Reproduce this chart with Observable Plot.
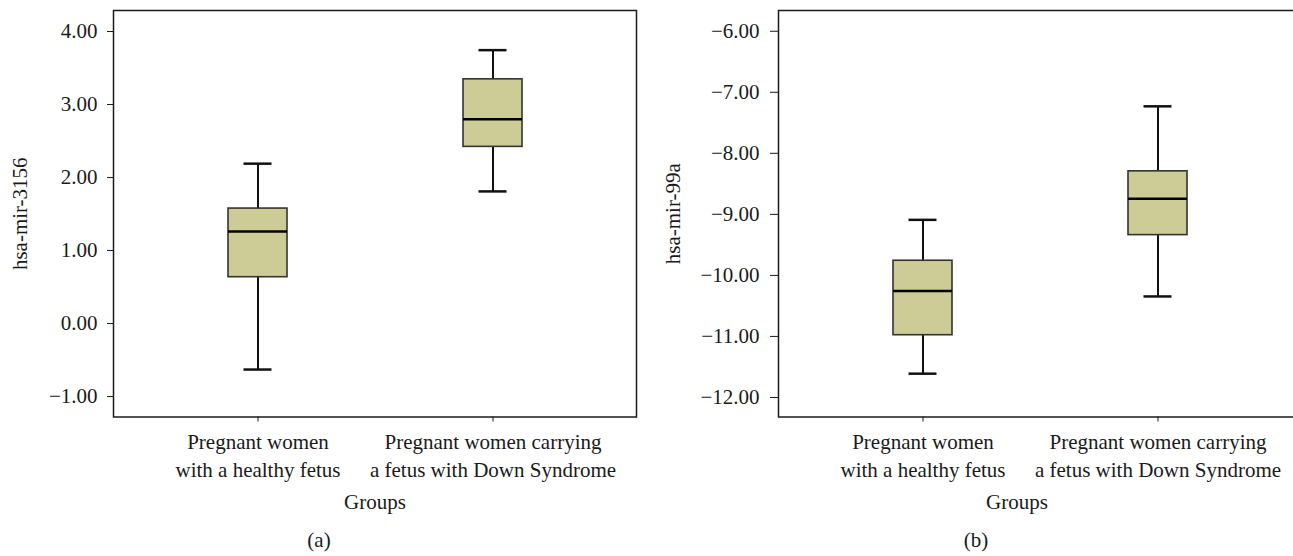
<!DOCTYPE html>
<html>
<head>
<meta charset="utf-8">
<script src="https://cdn.jsdelivr.net/npm/d3@7"></script>
<script src="https://cdn.jsdelivr.net/npm/@observablehq/plot@0.6"></script>
<style>
  html, body { margin: 0; padding: 0; background: #fff; overflow: hidden; }
  #wrap { position: relative; width: 1293px; height: 556px; overflow: hidden; font-family: "Liberation Serif", "DejaVu Serif", serif; color: #1a1a1a; }
  .panel { position: absolute; top: 0; }
  .panel svg { max-width: none !important; }
  .cap { position: absolute; top: 530px; width: 80px; margin-left: -40px; text-align: center; font-size: 21px; line-height: 20px; }
</style>
</head>
<body>
<div id="wrap">
  <div class="panel" id="pa" style="left:0px; width:640px"></div>
  <div class="panel" id="pb" style="left:640px; width:665px"></div>
  <div class="cap" style="left:319px">(a)</div>
  <div class="cap" style="left:976px">(b)</div>
</div>
<script>
// Categories (x axis)
const groups = ["Pregnant women\nwith a healthy fetus", "Pregnant women carrying\na fetus with Down Syndrome"];

// Panel (a): hsa-mir-3156 box statistics per group
const mir3156Low    = [-0.63, 1.81];
const mir3156Q1     = [0.635, 2.42];
const mir3156Median = [1.26, 2.80];
const mir3156Q3     = [1.575, 3.345];
const mir3156High   = [2.19, 3.745];
const mir3156Ticks  = [4, 3, 2, 1, 0, -1];

// Panel (b): hsa-mir-99a box statistics per group
const mir99aLow    = [-11.61, -10.345];
const mir99aQ1     = [-10.98, -9.34];
const mir99aMedian = [-10.255, -8.745];
const mir99aQ3     = [-9.76, -8.295];
const mir99aHigh   = [-9.09, -7.23];
const mir99aTicks  = [-6, -7, -8, -9, -10, -11, -12];

function table(lo, q1, med, q3, hi) {
  return groups.map((g, i) => ({group: g, lo: lo[i], q1: q1[i], med: med[i], q3: q3[i], hi: hi[i]}));
}

const fmt = d3.format(".2f");
const H = 520, FRAME_BOTTOM = 416.5;

function panel({data, yDomain, yTicks, label, width, marginLeft, tickSize, tickPadding, labelOffset, groupsDx}) {
  return Plot.plot({
    width, height: H,
    marginLeft, marginRight: 4, marginTop: 10, marginBottom: H - FRAME_BOTTOM,
    style: {fontFamily: "'Liberation Serif', 'DejaVu Serif', serif", fontSize: "21px", color: "#1a1a1a", background: "transparent", overflow: "visible", maxWidth: "none"},
    x: {type: "band", domain: groups, paddingInner: 0.749, paddingOuter: 0.487, align: 0.5},
    y: {domain: yDomain},
    marks: [
      Plot.frame({stroke: "#1a1a1a", strokeWidth: 1.5}),
      Plot.axisY({ticks: yTicks, tickFormat: fmt, tickSize, tickPadding, fontSize: 21,
                  label, labelAnchor: "center", labelOffset, labelArrow: "none"}),
      Plot.axisX({tickSize: 5, tickPadding: 8, fontSize: 21, lineHeight: 1.3, label: null}),
      Plot.ruleX(data, {x: "group", y1: "lo", y2: "q1", stroke: "#111", strokeWidth: 2}),
      Plot.ruleX(data, {x: "group", y1: "q3", y2: "hi", stroke: "#111", strokeWidth: 2}),
      Plot.barY(data, {x: "group", y1: "q1", y2: "q3", fill: "#cdcb96", stroke: "#333", strokeWidth: 1.6}),
      Plot.tickY(data, {x: "group", y: "med", stroke: "#000", strokeWidth: 2.5}),
      Plot.tickY(data, {x: "group", y: "lo", stroke: "#111", strokeWidth: 2.5, insetLeft: 15.5, insetRight: 15.5}),
      Plot.tickY(data, {x: "group", y: "hi", stroke: "#111", strokeWidth: 2.5, insetLeft: 15.5, insetRight: 15.5}),
      Plot.text(["Groups"], {frameAnchor: "bottom", dy: 92, dx: groupsDx, fontSize: 21, fill: "#1a1a1a"})
    ]
  });
}

document.getElementById("pa").appendChild(panel({
  data: table(mir3156Low, mir3156Q1, mir3156Median, mir3156Q3, mir3156High),
  yDomain: [-1.28, 4.288], yTicks: mir3156Ticks, label: "hsa-mir-3156",
  width: 640, marginLeft: 113, tickSize: 6, tickPadding: 10, labelOffset: 101, groupsDx: 0
}));

document.getElementById("pb").appendChild(panel({
  data: table(mir99aLow, mir99aQ1, mir99aMedian, mir99aQ3, mir99aHigh),
  yDomain: [-12.32, -5.66], yTicks: mir99aTicks, label: "hsa-mir-99a",
  width: 665, marginLeft: 138, tickSize: 8, tickPadding: 11, labelOffset: 113, groupsDx: -23
}));
</script>
</body>
</html>
